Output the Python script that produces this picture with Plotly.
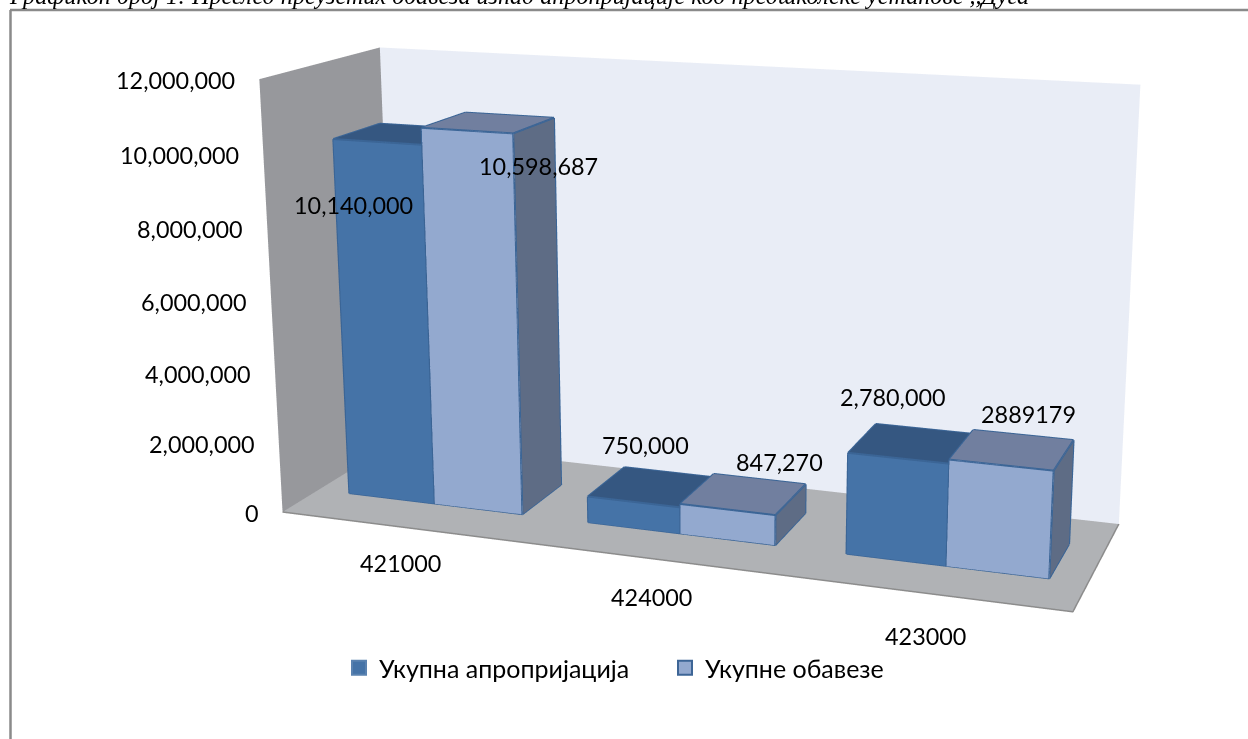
import plotly.graph_objects as go

# ---- data
categories = ["421000", "424000", "423000"]
appropriation = [10140000, 750000, 2780000]
obligations = [10598687, 847270, 2889179]
appropriation_labels = ["10,140,000", "750,000", "2,780,000"]
obligation_labels = ["10,598,687", "847,270", "2889179"]
z_ticks = [0, 2000000, 4000000, 6000000, 8000000, 10000000, 12000000]
z_tick_labels = ["0", "2,000,000", "4,000,000", "6,000,000", "8,000,000", "10,000,000", "12,000,000"]
series_names = ["Укупна апропријација", "Укупне обавезе"]
title_text = "Графикон број 1: Преглед преузетих обавеза изнад апропријације код предшколске установе ,,Дуга"

# ---- view: plotly's 3D camera has a fixed field of view, so the narrow lens of the
# original needs a tall scene, of which the browser window shows the relevant part
Wf, Hf, TOP = 1439, 1834, 583
EYE = dict(x=1.7880, y=-4.9099, z=1.3162)
CENTER = dict(x=-0.0665, y=0.3547, z=-0.1662)
UP = dict(x=-0.0033, y=0, z=1)
ASPECT = dict(x=2.0, y=0.6100, z=1.0936)

def px(x): return x / Wf
def py(y): return 1 - (y + TOP) / Hf

BAR_W = 0.366
Y0, Y1 = 0.30, 0.70
COL = [("#4573A7", "#355781", "#3A5C88"), ("#93A9CF", "#717F9F", "#5E6C85")]
EDGE = "#3B6596"
series = [appropriation, obligations]

fig = go.Figure()
for s, vals in enumerate(series):
    xs, ys, zs, I, J, K, FC = [], [], [], [], [], [], []
    ex, ey, ez = [], [], []
    for g, v in enumerate(vals):
        x0 = g + 0.5 - BAR_W + s * BAR_W
        x1 = x0 + BAR_W
        n = len(xs)
        xs += [x0, x1, x1, x0, x0, x1, x1, x0]
        ys += [Y0, Y0, Y1, Y1] * 2
        zs += [0] * 4 + [v] * 4
        for a, b, c, col in [(0, 1, 5, 0), (0, 5, 4, 0), (4, 5, 6, 1), (4, 6, 7, 1), (1, 2, 6, 2), (1, 6, 5, 2)]:
            I.append(n + a); J.append(n + b); K.append(n + c); FC.append(COL[s][col])
        for a, b in [(0, 1), (1, 5), (5, 4), (4, 0), (5, 6), (6, 7), (7, 4), (1, 2), (2, 6)]:
            ex += [xs[n + a], xs[n + b], None]
            ey += [ys[n + a], ys[n + b], None]
            ez += [zs[n + a], zs[n + b], None]
    fig.add_trace(go.Mesh3d(x=xs, y=ys, z=zs, i=I, j=J, k=K, facecolor=FC, flatshading=True, showlegend=False,
                            hoverinfo='skip', lighting=dict(ambient=1, diffuse=0, specular=0, roughness=1, fresnel=0)))
    fig.add_trace(go.Scatter3d(x=ex, y=ey, z=ez, mode='lines', line=dict(color=EDGE, width=4), showlegend=False, hoverinfo='skip'))

# floor front edges
fig.add_trace(go.Scatter3d(x=[0, 3, 3], y=[0, 0, 1], z=[0, 0, 0], mode='lines',
                           line=dict(color="#8C8C8C", width=3), showlegend=False, hoverinfo='skip'))

# the legend entry's marker sits inside the tallest bar of its series
for s, (vals, nm) in enumerate(zip(series, series_names)):
    fig.add_trace(go.Scatter3d(x=[0.5 - BAR_W / 2 + s * BAR_W], y=[.5], z=[vals[0] / 2],
                               mode='markers', name=nm, hoverinfo='skip',
                               marker=dict(symbol='square', size=14, color=COL[s][0],
                                           line=dict(color="#5A82B0" if s == 0 else "#3D6596", width=2))))

FONT = "Lato"
FS = 23.4
BLACK = dict(family=FONT, size=FS, color='black')
ann = []
for t, l in zip(z_ticks, z_tick_labels):
    ann.append(dict(x=0, y=0, z=t, text=l, showarrow=False, xanchor='right', yanchor='middle', xshift=-22, yshift=-1, font=BLACK))
cat_shifts = [(-1, -36), (-2, -38), (-2, -43)]
for g, c in enumerate(categories):
    ann.append(dict(x=g + .5, y=0, z=0, text=c, showarrow=False, xanchor='center', yanchor='middle',
                    xshift=cat_shifts[g][0], yshift=cat_shifts[g][1], font=BLACK))
shifts = [[(-24, -63), (71, -35)], [(12, 57), (52, 47)], [(-5, 61), (27, 51)]]
for g in range(3):
    for s, (vals, labs) in enumerate(zip(series, [appropriation_labels, obligation_labels])):
        ann.append(dict(x=g + .5 - BAR_W / 2 + s * BAR_W, y=Y0, z=vals[g], text=labs[g], showarrow=False,
                        xanchor='center', yanchor='middle', xshift=shifts[g][s][0], yshift=shifts[g][s][1], font=BLACK))

ax = dict(showgrid=False, zeroline=False, showline=False, showticklabels=False, ticks='', title='', showspikes=False, showbackground=True)
fig.update_layout(
    width=Wf, height=Hf, margin=dict(l=0, r=0, t=0, b=0), paper_bgcolor='white',
    scene=dict(domain=dict(x=[0, 1], y=[0, 1]), aspectmode='manual', aspectratio=ASPECT,
               xaxis=dict(ax, range=[0, 3], backgroundcolor="#97989C"),
               yaxis=dict(ax, range=[0, 1], backgroundcolor="#E9EDF6"),
               zaxis=dict(ax, range=[0, 12000000], tickvals=z_ticks, backgroundcolor="#B0B2B5"),
               camera=dict(eye=EYE, center=CENTER, up=UP), annotations=ann, hovermode=False),
    legend=dict(orientation='h', x=px(339), y=py(668), xanchor='left', yanchor='middle', entrywidth=281, entrywidthmode='pixels',
                font=dict(family=FONT, size=25, color='black'), bgcolor='rgba(0,0,0,0)'),
    shapes=[dict(type='line', xref='paper', yref='paper', x0=px(10.5), x1=px(10.5), y0=py(10), y1=py(745), line=dict(color="#8A8A8A", width=2.5)),
            dict(type='line', xref='paper', yref='paper', x0=px(10), x1=px(1260), y0=py(10), y1=py(10), line=dict(color="#8A8A8A", width=2.5))],
    annotations=[dict(text="<i>" + title_text + "</i>", x=px(8), y=py(10), xref='paper', yref='paper', showarrow=False,
                      xanchor='left', yanchor='bottom', borderpad=0, font=dict(family="Liberation Serif", size=24.15, color='black'))])
post = ("document.documentElement.style.overflow='hidden';document.body.style.margin='0';document.body.style.overflow='hidden';"
        "var d=document.getElementById('{plot_id}');d.style.position='fixed';d.style.left='0';d.style.top='-%dpx';" % TOP)
fig.write_html("out.html", post_script=post)
